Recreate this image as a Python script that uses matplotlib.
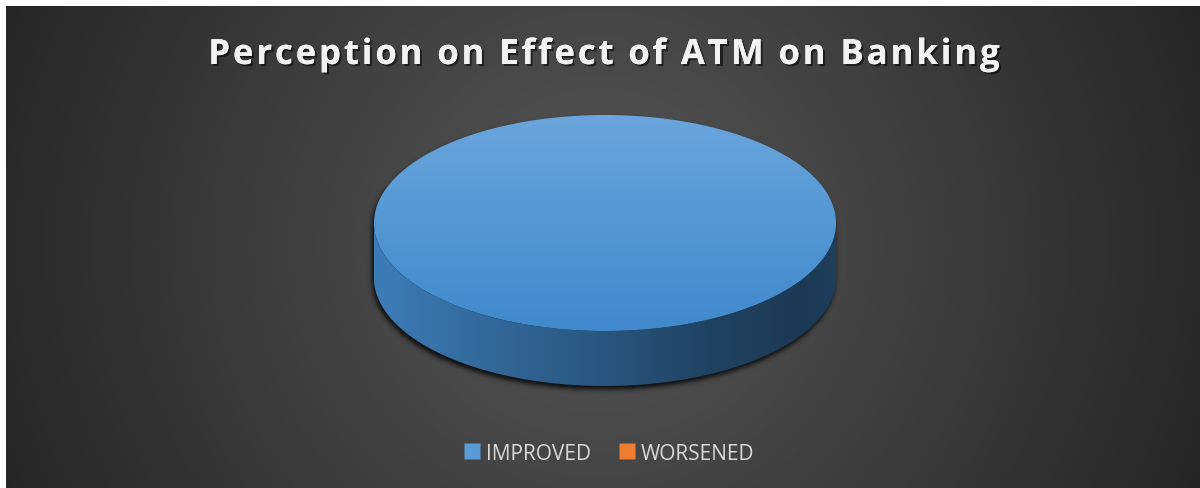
import numpy as np
import matplotlib
matplotlib.use("Agg")
import matplotlib.pyplot as plt
from matplotlib.patches import Polygon
from matplotlib.lines import Line2D
from matplotlib.font_manager import FontProperties
import matplotlib.patheffects as pe
from matplotlib.colors import to_rgb, rgb_to_hsv, hsv_to_rgb

# ---- data ----
title = "Perception on Effect of ATM on Banking"
categories = ["IMPROVED", "WORSENED"]
values = [100, 0]          # share of respondents, %
slice_colors = ["#5b9bd5", "#ed7d31"]

# ---- canvas ----
W, H = 1200, 489
fig = plt.figure(figsize=(W / 100, H / 100), dpi=100, facecolor="white")
ax = fig.add_axes([0, 0, 1, 1])
ax.axis("off")

# dark radial background of the chart area
x0, y0 = 6, 7
gx, gy = np.meshgrid(np.arange(x0, W) + 0.5, np.arange(y0, H) + 0.5)
dist = np.hypot(gx - 600, gy - 245)
lum = np.clip(87 - 0.077 * dist, 36, 90) / 255
ax.imshow(np.dstack([lum] * 3), extent=(x0, W, H, y0),
          interpolation="bilinear", zorder=0)

# ---- 3-D pie geometry (pixel space) ----
cx, cy = 605, 224
a, b = 231, 108
depth = 55


def rim(theta, yoff=0.0):
    """Point on the ellipse, theta clockwise from 12 o'clock (radians)."""
    return np.column_stack([cx + a * np.sin(theta), cy - b * np.cos(theta) + yoff])


def hsv_tone(color, s_mul, v):
    h, s, _ = rgb_to_hsv(np.array(to_rgb(color)))
    return hsv_to_rgb(np.array([h, min(1.0, s * s_mul), v]))


def gradient_clip(img, extent, verts, z):
    poly = Polygon(verts, closed=True, facecolor="none", edgecolor="none", zorder=z)
    ax.add_patch(poly)
    im = ax.imshow(img, extent=extent, interpolation="bilinear", zorder=z, aspect="auto")
    im.set_clip_path(poly)


# soft drop shadow under the disc
pad = 30
sx = np.arange(cx - a - pad, cx + a + pad) + 0.5
sy = np.arange(cy - b - pad, cy + b + depth + pad) + 0.5
SX, SY = np.meshgrid(sx, sy)
ox, oy = -1.5, 3.5
ex = (SX - ox - cx) / a
inside = (ex ** 2 + ((SY - oy - cy) / b) ** 2 <= 1) | \
         (ex ** 2 + ((SY - oy - cy - depth) / b) ** 2 <= 1) | \
         ((np.abs(ex) <= 1) & (SY - oy >= cy) & (SY - oy <= cy + depth))
mask = inside.astype(float)
k = np.exp(-0.5 * (np.arange(-8, 9) / 2.5) ** 2)
k /= k.sum()
mask = np.apply_along_axis(lambda r: np.convolve(r, k, mode="same"), 1, mask)
mask = np.apply_along_axis(lambda c: np.convolve(c, k, mode="same"), 0, mask)
shadow = np.zeros(mask.shape + (4,))
shadow[..., 3] = 0.85 * mask
ax.imshow(shadow, extent=(sx[0] - 0.5, sx[-1] + 0.5, sy[-1] + 0.5, sy[0] - 0.5),
          interpolation="bilinear", zorder=1, aspect="auto")

# slices
total = float(sum(values))
bounds = np.concatenate([[0], np.cumsum(values)]) / total * 2 * np.pi
side_stops_t = np.array([0.0, 0.25, 0.5, 0.75, 0.93, 1.0])
side_stops_v = np.array([0.72, 0.60, 0.49, 0.37, 0.33, 0.36])
for val, col, t0, t1 in zip(values, slice_colors, bounds[:-1], bounds[1:]):
    if val <= 0:
        continue
    full = np.isclose(t1 - t0, 2 * np.pi)

    # visible front wall: part of the arc between 3 and 9 o'clock
    f0, f1 = max(t0, np.pi / 2), min(t1, 3 * np.pi / 2)
    if f1 > f0:
        th = np.linspace(f0, f1, 300)
        wall = np.vstack([rim(th), rim(th[::-1], depth)])
        xs = np.linspace(0, 1, 400)
        v = np.interp(xs, side_stops_t, side_stops_v)
        img = np.array([[hsv_tone(col, 1.17, vv) for vv in v]])
        gradient_clip(img, (cx - a, cx + a, cy + b + depth, cy), wall, 2)

    # top face
    th = np.linspace(t0, t1, 600)
    top = rim(th) if full else np.vstack([[cx, cy], rim(th)])
    img = np.array([[hsv_tone(col, s, v)] for s, v in
                    zip(np.linspace(0.9, 1.2, 300), np.linspace(0.86, 0.80, 300))])
    gradient_clip(img, (cx - a, cx + a, cy + b, cy - b), top, 3)

ax.set_xlim(0, W)
ax.set_ylim(H, 0)

# ---- title, drawn glyph by glyph with extra tracking ----
renderer = fig.canvas.get_renderer()
tprop = FontProperties(family="Open Sans", weight="bold", size=25)
tracking = 2.9  # px between glyphs
widths = [renderer.get_text_width_height_descent(ch, tprop, ismath=False)[0]
          for ch in title]
span = sum(widths) + tracking * (len(title) - 1)
xpos = 604 - span / 2
title_fx = [pe.withSimplePatchShadow(offset=(1.5, -1.5), shadow_rgbFace="black",
                                     alpha=0.55), pe.Normal()]
for ch, w in zip(title, widths):
    if ch != " ":
        ax.text(xpos, 65, ch, ha="left", va="baseline", fontproperties=tprop,
                color="#f2f2f2", zorder=5, path_effects=title_fx)
    xpos += w + tracking

# ---- legend ----
handles = [Line2D([], [], linestyle="none", marker="s", markersize=11,
                  markerfacecolor=c, markeredgecolor="none") for c in slice_colors]
fig.legend(handles, categories, loc="center", bbox_to_anchor=(609.5 / W, 1 - 454 / H),
           ncol=2, frameon=False, labelcolor="#d9d9d9",
           prop={"family": "Open Sans", "size": 15},
           handlelength=0.7, handletextpad=0.3, columnspacing=1.4)

fig.savefig("out.png", dpi=100, facecolor="white")
